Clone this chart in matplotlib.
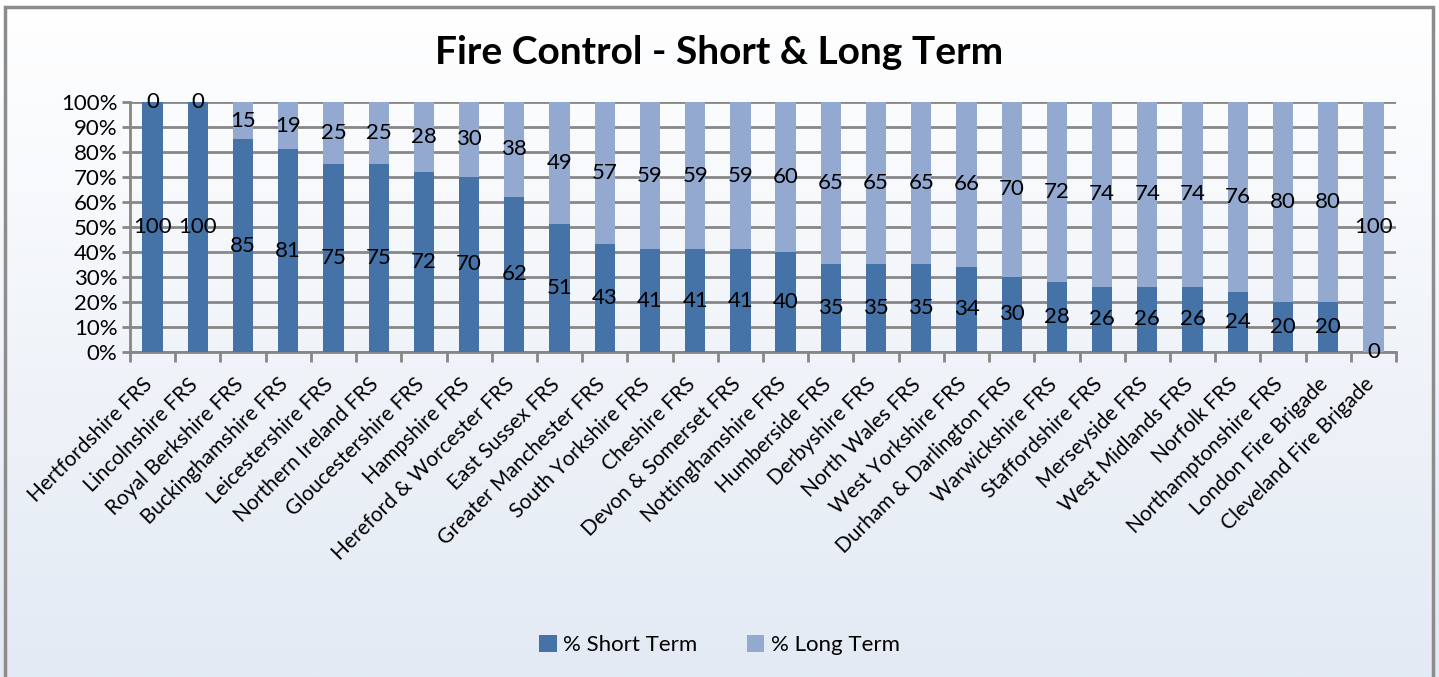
import numpy as np
import matplotlib
matplotlib.use('Agg')
import matplotlib.pyplot as plt
from matplotlib.patches import Rectangle
from matplotlib.transforms import offset_copy

plt.rcParams['font.family'] = ['Lato', 'DejaVu Sans']

# Data
brigades = [
    'Hertfordshire FRS', 'Lincolnshire FRS', 'Royal Berkshire FRS', 'Buckinghamshire FRS',
    'Leicestershire FRS', 'Northern Ireland FRS', 'Gloucestershire FRS', 'Hampshire FRS',
    'Hereford & Worcester FRS', 'East Sussex FRS', 'Greater Manchester FRS', 'South Yorkshire FRS',
    'Cheshire FRS', 'Devon & Somerset FRS', 'Nottinghamshire FRS', 'Humberside FRS',
    'Derbyshire FRS', 'North Wales FRS', 'West Yorkshire FRS', 'Durham & Darlington FRS',
    'Warwickshire FRS', 'Staffordshire FRS', 'Merseyside FRS', 'West Midlands FRS',
    'Norfolk FRS', 'Northamptonshire FRS', 'London Fire Brigade', 'Cleveland Fire Brigade',
]
short_term = [100, 100, 85, 81, 75, 75, 72, 70, 62, 51, 43, 41, 41, 41, 40, 35, 35, 35, 34, 30,
              28, 26, 26, 26, 24, 20, 20, 0]
long_term = [0, 0, 15, 19, 25, 25, 28, 30, 38, 49, 57, 59, 59, 59, 60, 65, 65, 65, 66, 70,
             72, 74, 74, 74, 76, 80, 80, 100]
series_names = ['% Short Term', '% Long Term']
yticks = list(range(0, 101, 10))

DARK = '#4572a7'
LIGHT = '#93a9cf'
GRID = '#878787'

fig = plt.figure(figsize=(14.39, 6.77), dpi=100)

# background gradient + frame
bg = fig.add_axes([0, 0, 1, 1], zorder=-10)
grad = np.linspace(0, 1, 256).reshape(-1, 1)
top = np.array([1.0, 1.0, 1.0])
bot = np.array([0xe3, 0xea, 0xf4]) / 255
img = top[None, None, :] * (1 - grad[:, :, None]) + bot[None, None, :] * grad[:, :, None]
bg.imshow(img, aspect='auto', extent=[0, 1, 0, 1], origin='upper')
bg.set_xlim(0, 1)
bg.set_ylim(0, 1)
bg.axis('off')
fig.patches.append(Rectangle((4.5 / 1439, -0.01), (1433 - 4.5) / 1439, 1 - 7 / 677 + 0.01,
                             transform=fig.transFigure, fill=False, edgecolor='#8c8c8c', lw=2.5))

ax = fig.add_axes([130 / 1439, 1 - 352 / 677, (1396 - 130) / 1439, 250 / 677])
ax.patch.set_alpha(0)

x = np.arange(len(brigades))
short = np.array(short_term)
long_ = np.array(long_term)
ax.bar(x, short, width=0.45, color=DARK, label=series_names[0], zorder=3)
ax.bar(x, long_, width=0.45, bottom=short, color=LIGHT, label=series_names[1], zorder=3)

for i in x:
    ax.text(i, short[i] / 2, str(short[i]), ha='center', va='center', fontsize=16, zorder=5)
    ax.text(i, short[i] + long_[i] / 2, str(long_[i]), ha='center', va='center', fontsize=16, zorder=5)

ax.set_xlim(-0.5, len(brigades) - 0.5)
ax.set_ylim(0, 100)
ax.set_yticks(yticks)
ax.set_yticklabels([f'{t}%' for t in yticks], fontsize=16)
ax.yaxis.grid(True, color=GRID, lw=2, zorder=0)
ax.set_axisbelow(True)
ax.tick_params(axis='y', length=6, width=2, color=GRID, pad=3)

ax.set_xticks(x)
ax.set_xticklabels(brigades, rotation=45, ha='right', rotation_mode='anchor', fontsize=15)
ax.tick_params(axis='x', which='major', length=0, pad=16)
ax.set_xticks(np.arange(-0.5, len(brigades), 1), minor=True)
ax.tick_params(axis='x', which='minor', length=7, width=2, color=GRID)
for lbl in ax.get_xticklabels():
    lbl.set_transform(offset_copy(lbl.get_transform(), fig=fig, x=-10, y=0, units='dots'))

for side in ['top', 'right']:
    ax.spines[side].set_visible(False)
for side in ['left', 'bottom']:
    ax.spines[side].set_color(GRID)
    ax.spines[side].set_linewidth(2)

fig.text(0.5, 1 - 53 / 677, 'Fire Control - Short & Long Term', ha='center', va='center',
         fontsize=28, fontweight='bold')

fig.legend(loc='center', bbox_to_anchor=(0.5, 1 - 645 / 677), ncol=2, frameon=False,
           fontsize=16, handlelength=0.8, handleheight=0.8, columnspacing=2.2, handletextpad=0.3)

fig.savefig('out.png', dpi=100)
